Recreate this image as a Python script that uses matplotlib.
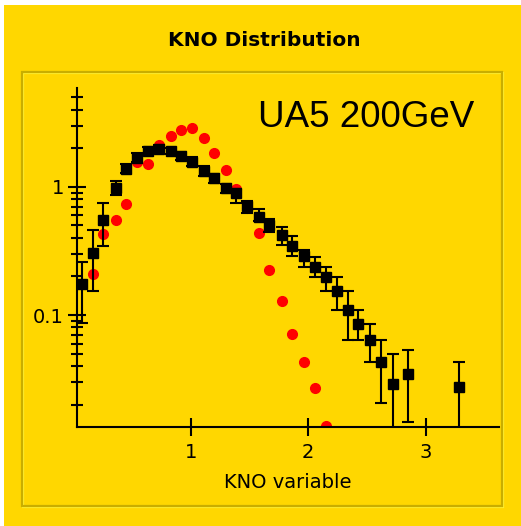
import matplotlib
matplotlib.use("Agg")
import matplotlib.pyplot as plt
from matplotlib.patches import Rectangle
from matplotlib.ticker import LogLocator, NullFormatter, FixedLocator, FixedFormatter

# UA5 200 GeV data (black squares with errors)
x_ua5 = [0.074, 0.167, 0.258, 0.363, 0.45, 0.54, 0.64, 0.73, 0.83, 0.92, 1.01,
         1.11, 1.20, 1.30, 1.39, 1.48, 1.58, 1.67, 1.78, 1.865, 1.967, 2.058,
         2.149, 2.248, 2.336, 2.423, 2.528, 2.616, 2.718, 2.851, 3.28]
y_ua5 = [0.174, 0.305, 0.556, 0.98, 1.39, 1.69, 1.91, 1.98, 1.91, 1.75, 1.57,
         1.33, 1.18, 0.98, 0.89, 0.71, 0.58, 0.50, 0.42, 0.346, 0.287, 0.237,
         0.197, 0.154, 0.109, 0.085, 0.0643, 0.0427, 0.0291, 0.0344, 0.0274]
y_hi = [0.26, 0.46, 0.75, 1.11, 1.5, 1.82, 2.05, 2.12, 2.02, 1.87, 1.70,
        1.45, 1.27, 1.06, 0.97, 0.78, 0.666, 0.566, 0.487, 0.417, 0.324, 0.286,
        0.237, 0.197, 0.153, 0.109, 0.085, 0.064, 0.05, 0.053, 0.043]
y_lo = [0.086, 0.154, 0.348, 0.86, 1.28, 1.57, 1.77, 1.84, 1.80, 1.61, 1.45,
        1.22, 1.07, 0.89, 0.75, 0.63, 0.543, 0.445, 0.35, 0.287, 0.237, 0.197,
        0.153, 0.109, 0.064, 0.064, 0.043, 0.0207, 0.005, 0.0146, 0.005]

# generator curve (red points)
x_mc = [0.167, 0.258, 0.363, 0.45, 0.54, 0.64, 0.73, 0.83, 0.92, 1.01, 1.11,
        1.20, 1.30, 1.39, 1.48, 1.58, 1.67, 1.78, 1.865, 1.967, 2.058, 2.149]
y_mc = [0.21, 0.43, 0.556, 0.74, 1.57, 1.50, 2.12, 2.49, 2.77, 2.86, 2.41,
        1.82, 1.35, 0.955, 0.68, 0.44, 0.223, 0.128, 0.0716, 0.043, 0.0269, 0.0137]

x_ticks = [1, 2, 3]
title = "KNO Distribution"
xlabel = "KNO variable"
label = "UA5 200GeV"

yellow = "#FFD700"
W, H = 521, 526
fig = plt.figure(figsize=(W / 100, H / 100), dpi=100, facecolor=yellow)

# white margin at top and left
fig.patches.append(Rectangle((0, 1 - 5 / H), 1, 5 / H, transform=fig.transFigure,
                             facecolor="white", edgecolor="none", zorder=0))
fig.patches.append(Rectangle((0, 0), 4 / W, 1, transform=fig.transFigure,
                             facecolor="white", edgecolor="none", zorder=0))

# panel border (bevel look)
fig.patches.append(Rectangle((23 / W, 1 - 507 / H), (503 - 23) / W, (507 - 73) / H,
                             transform=fig.transFigure, fill=False,
                             edgecolor="#FFEF30", lw=1.6, zorder=0))
fig.patches.append(Rectangle((21.5 / W, 1 - 505.5 / H), (502 - 21.5) / W, (505.5 - 71.5) / H,
                             transform=fig.transFigure, fill=False,
                             edgecolor="#C8AE00", lw=1.6, zorder=0))

ax = fig.add_axes([77 / W, 1 - 427 / H, (499 - 77) / W, (427 - 88) / H])
ax.set_facecolor(yellow)

err = [[y - l for y, l in zip(y_ua5, y_lo)], [h - y for y, h in zip(y_ua5, y_hi)]]

ax.plot(x_mc, y_mc, "o", color="red", markersize=7, zorder=2)
ax.errorbar(x_ua5, y_ua5, yerr=err, fmt="s", color="black", markersize=7,
            elinewidth=1.5, capsize=4.5, capthick=1.5, zorder=3)

ax.set_yscale("log")
ax.set_xlim(0.034, 3.622)
ax.set_ylim(0.0134, 5.9)

for s in ["top", "right"]:
    ax.spines[s].set_visible(False)
for s in ["left", "bottom"]:
    ax.spines[s].set_linewidth(1.5)

ax.xaxis.set_major_locator(FixedLocator(x_ticks))
ax.xaxis.set_major_formatter(FixedFormatter([str(t) for t in x_ticks]))
ax.yaxis.set_major_locator(FixedLocator([0.1, 1]))
ax.yaxis.set_major_formatter(FixedFormatter(["0.1", "1"]))
ax.yaxis.set_minor_locator(LogLocator(base=10, subs=range(2, 10)))
ax.yaxis.set_minor_formatter(NullFormatter())

ax.tick_params(axis="both", which="major", direction="inout", length=13, width=1.5,
               labelsize=14)
ax.tick_params(axis="x", which="major", pad=5)
ax.tick_params(axis="y", which="major", pad=3)
ax.tick_params(axis="y", which="minor", direction="inout", length=8.5, width=1.5)

ax.set_xlabel(xlabel, fontsize=14, labelpad=8)

fig.text(264 / W, 1 - 40 / H, title, ha="center", va="center",
         fontsize=14.5, fontweight="bold")
ax.text(258 / W, 1 - 126.7 / H, label, transform=fig.transFigure, ha="left",
        va="baseline", fontsize=26.5, family="Liberation Sans")

fig.savefig("out.png", dpi=100, facecolor=yellow)
